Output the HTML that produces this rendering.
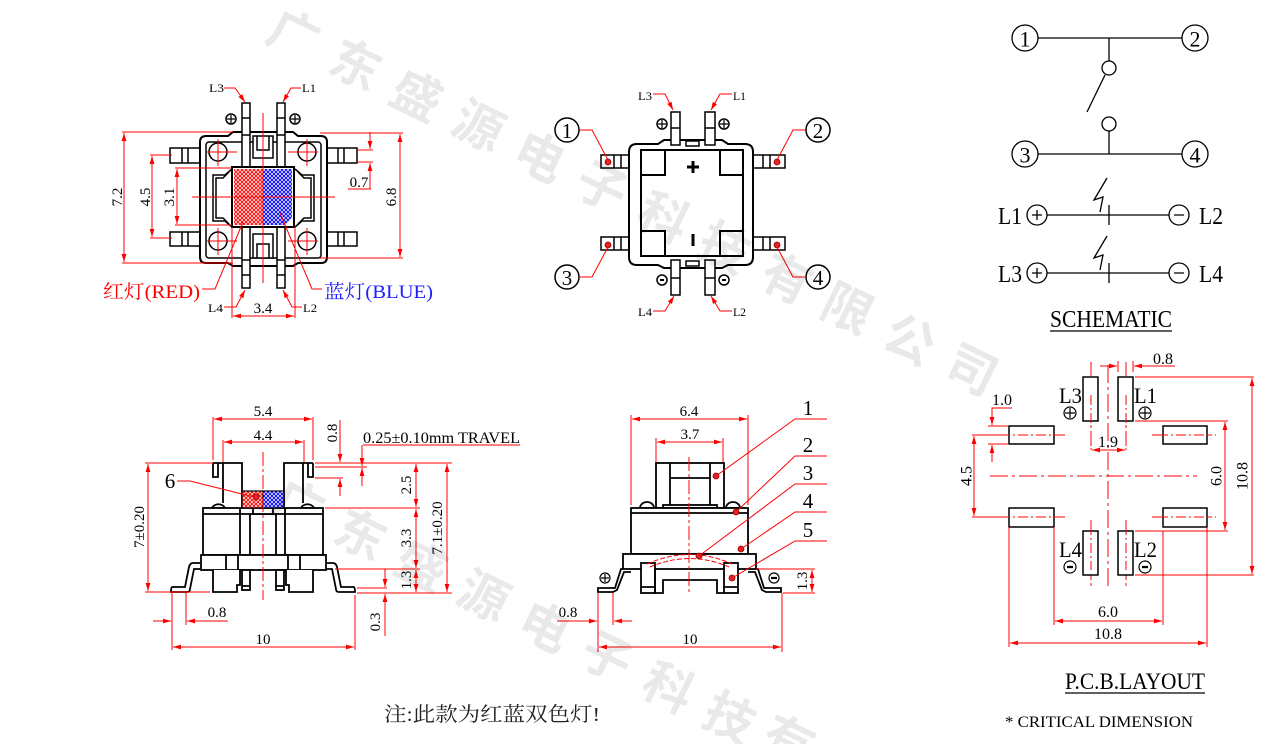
<!DOCTYPE html>
<html><head><meta charset="utf-8"><style>html,body{margin:0;padding:0;background:#fff;width:1266px;height:744px;overflow:hidden}svg{display:block}</style></head>
<body>
<svg width="1266" height="744" viewBox="0 0 1266 744" xmlns="http://www.w3.org/2000/svg" font-family="'Liberation Serif', serif">
<defs>
<marker id="ar" viewBox="0 0 10 6" markerWidth="8" markerHeight="5" refX="10" refY="3" orient="auto-start-reverse" markerUnits="userSpaceOnUse"><path d="M0,0 L10,3 L0,6 z" fill="#ff0000"/></marker>
<pattern id="hr" width="4" height="4" patternUnits="userSpaceOnUse"><rect width="4" height="4" fill="#fff"/><path d="M-1,-1 L5,5 M5,-1 L-1,5" stroke="#ff1010" stroke-width="1.1"/></pattern>
<pattern id="hb" width="4" height="4" patternUnits="userSpaceOnUse"><rect width="4" height="4" fill="#fff"/><path d="M-1,-1 L5,5 M5,-1 L-1,5" stroke="#1010ff" stroke-width="1.1"/></pattern>
</defs>

<!-- ================= TOP-LEFT VIEW ================= -->
<g fill="#fff" stroke="#000" stroke-width="1.5">
 <rect x="170" y="148" width="30" height="15"/>
 <rect x="170" y="232" width="30" height="14"/>
 <rect x="327" y="148" width="30" height="15"/>
 <rect x="327" y="232" width="30" height="14"/>
 <path fill="none" d="M182,148V163M188,148V163M182,232V246M188,232V246M338,148V163M344,148V163M338,232V246M344,232V246"/>
 <path stroke-width="2" d="M206,136H228L233,132H293L298,136H321Q327,136 327,142V257Q327,263 321,263H298L293,266H233L228,263H206Q200,263 200,257V142Q200,136 206,136Z"/>
 <rect x="206" y="142" width="115" height="116" rx="3"/>
 <circle cx="218" cy="152" r="9"/>
 <circle cx="307" cy="152" r="9"/>
 <circle cx="218" cy="241" r="9"/>
 <circle cx="307" cy="241" r="9"/>
 <path fill="none" d="M232,169L225,175H213V221H225L232,227M295,169L302,175H314V221H302L295,227"/>
 <path fill="none" d="M229,172L223,178H216V218H223L229,224M298,172L304,178H311V218H304L298,224"/>
 <rect x="242" y="103" width="8" height="65"/>
 <rect x="277" y="103" width="8" height="65"/>
 <rect x="242" y="227" width="8" height="61"/>
 <rect x="277" y="227" width="8" height="61"/>
 <path fill="none" d="M242,118H250M277,118H285M242,135H250M277,135H285M242,260H250M277,260H285M242,275H250M277,275H285"/>
 <rect x="253" y="136" width="20" height="22"/>
 <path fill="none" d="M257,136V150H269V136"/>
 <rect x="253" y="234" width="20" height="24"/>
 <path fill="none" d="M257,258V244H269V258"/>
 <circle cx="231" cy="119" r="5"/>
 <circle cx="295" cy="119" r="5"/>
 <path fill="none" stroke-width="1.2" d="M227,119H235M231,115V123M291,119H299M295,115V123"/>
</g>
<rect x="232" y="167" width="62" height="60" fill="#fff" stroke="#000" stroke-width="2"/>
<rect x="234" y="169" width="29" height="56" fill="url(#hr)"/>
<path d="M263,169H292V218L285,225H263Z" fill="url(#hb)"/>
<g stroke="#ff0000" stroke-width="1" fill="none">
 <path d="M192,197H335M263,113V283"/>
 <path d="M207,152H237M218,139V166M288,152H318M307,139V166M207,241H237M218,228V255M288,241H318M307,228V255"/>
 <path d="M122,132H233M122,263H233"/>
 <path d="M124,133V262" marker-start="url(#ar)" marker-end="url(#ar)"/>
 <path d="M150,155H172M150,238H172"/>
 <path d="M152,156V237" marker-start="url(#ar)" marker-end="url(#ar)"/>
 <path d="M175,168H232M175,225H232"/>
 <path d="M177,169V224" marker-start="url(#ar)" marker-end="url(#ar)"/>
 <path d="M320,133H403M320,258H403"/>
 <path d="M400,134V257" marker-start="url(#ar)" marker-end="url(#ar)"/>
 <path d="M357,150H373M357,162H373M348,189H371"/>
 <path d="M370,132V149" marker-end="url(#ar)"/>
 <path d="M370,189V163" marker-end="url(#ar)"/>
 <path d="M232,227V318M295,227V318"/>
 <path d="M233,316H294" marker-start="url(#ar)" marker-end="url(#ar)"/>
 <polyline points="224,88 235,88 245,102" marker-end="url(#ar)"/>
 <polyline points="301,88 291,88 283,102" marker-end="url(#ar)"/>
 <polyline points="224,307 236,307 245,290" marker-end="url(#ar)"/>
 <polyline points="302,307 292,307 283,290" marker-end="url(#ar)"/>
 <polyline points="202,289 215,289 243,222"/>
 <polyline points="322,289 312,289 280,213"/>
</g>
<g font-size="15" fill="#000" text-anchor="middle">
 <text transform="translate(118,197) rotate(-90)" dominant-baseline="central">7.2</text>
 <text transform="translate(146,197) rotate(-90)" dominant-baseline="central">4.5</text>
 <text transform="translate(170,197) rotate(-90)" dominant-baseline="central">3.1</text>
 <text transform="translate(392,197) rotate(-90)" dominant-baseline="central">6.8</text>
 <text x="359" y="187">0.7</text>
 <text x="263" y="313">3.4</text>
</g>
<g font-size="12" fill="#000">
 <text x="209" y="92" textLength="15" lengthAdjust="spacingAndGlyphs">L3</text>
 <text x="302" y="92" textLength="14" lengthAdjust="spacingAndGlyphs">L1</text>
 <text x="208" y="312" textLength="15" lengthAdjust="spacingAndGlyphs">L4</text>
 <text x="303" y="312" textLength="14" lengthAdjust="spacingAndGlyphs">L2</text>
</g>
<text x="103" y="298" font-size="19" fill="#ff0000" font-family="'Liberation Serif','Noto Serif CJK SC',serif" textLength="97" lengthAdjust="spacingAndGlyphs">红灯(RED)</text>
<text x="324" y="298" font-size="19" fill="#2020ff" font-family="'Liberation Serif','Noto Serif CJK SC',serif" textLength="109" lengthAdjust="spacingAndGlyphs">蓝灯(BLUE)</text>

<!-- ================= TOP-MIDDLE VIEW ================= -->
<g fill="#fff" stroke="#000" stroke-width="1.5">
 <rect x="601" y="155" width="28" height="13"/>
 <rect x="601" y="237" width="28" height="13"/>
 <rect x="753" y="155" width="32" height="13"/>
 <rect x="753" y="237" width="32" height="13"/>
 <path fill="none" d="M614,155V168M621,155V168M614,237V250M621,237V250M763,155V168M770,155V168M763,237V250M770,237V250"/>
 <path stroke-width="2" d="M637,144H658L664,140H722L728,144H745Q753,144 753,152V257Q753,265 745,265H728L722,268H664L658,265H637Q629,265 629,257V152Q629,144 637,144Z"/>
 <rect x="641" y="150" width="102" height="106" stroke-width="2"/>
 <path fill="none" stroke-width="2" d="M641,175H665V150M743,175H720V150M641,231H665V256M743,231H720V256"/>
 <rect x="671" y="112" width="9" height="33"/>
 <rect x="705" y="112" width="10" height="33"/>
 <rect x="671" y="260" width="9" height="35"/>
 <rect x="705" y="260" width="10" height="35"/>
 <path fill="none" d="M671,128H680M705,128H715M671,278H680M705,278H715"/>
 <rect x="686" y="141" width="13" height="5"/>
 <rect x="686" y="261" width="13" height="5"/>
 <circle cx="662" cy="124" r="5"/><circle cx="724" cy="124" r="5"/>
 <circle cx="662" cy="280" r="5"/><circle cx="724" cy="280" r="5"/>
 <path fill="none" stroke-width="1.2" d="M658,124H666M662,120V128M720,124H728M724,120V128"/>
 <path fill="none" stroke-width="2" d="M660,280H664M722,280H726"/>
 <circle cx="567" cy="130" r="12"/><circle cx="818" cy="130" r="12"/>
 <circle cx="567" cy="277" r="12"/><circle cx="818" cy="277" r="12"/>
</g>
<path d="M687,167H699M693,161V173" stroke="#000" stroke-width="3"/>
<rect x="691.5" y="234" width="3" height="12" fill="#000"/>
<g stroke="#ff0000" stroke-width="1" fill="none">
 <polyline points="579,130 592,130 608,160"/>
 <polyline points="806,130 793,130 777,160"/>
 <polyline points="579,277 592,277 608,247"/>
 <polyline points="806,277 793,277 777,247"/>
 <polyline points="653,94 665,94 673,110" marker-end="url(#ar)"/>
 <polyline points="732,94 720,94 711,110" marker-end="url(#ar)"/>
 <polyline points="653,311 665,311 674,296" marker-end="url(#ar)"/>
 <polyline points="732,311 720,311 711,296" marker-end="url(#ar)"/>
</g>
<g fill="#e52222" stroke="#900" stroke-width="0.8">
 <circle cx="608" cy="162" r="3"/><circle cx="608" cy="245" r="3"/>
 <circle cx="777" cy="162" r="3"/><circle cx="777" cy="245" r="3"/>
</g>
<g font-size="21" fill="#000" text-anchor="middle" dominant-baseline="central">
 <text x="567" y="131">1</text><text x="818" y="131">2</text>
 <text x="567" y="278">3</text><text x="818" y="278">4</text>
</g>
<g font-size="12" fill="#000">
 <text x="638" y="100" textLength="14" lengthAdjust="spacingAndGlyphs">L3</text>
 <text x="733" y="100" textLength="13" lengthAdjust="spacingAndGlyphs">L1</text>
 <text x="638" y="316" textLength="14" lengthAdjust="spacingAndGlyphs">L4</text>
 <text x="733" y="316" textLength="13" lengthAdjust="spacingAndGlyphs">L2</text>
</g>

<!-- ================= SCHEMATIC ================= -->
<g stroke="#000" stroke-width="1.3" fill="none">
 <circle cx="1025" cy="38" r="13"/><circle cx="1195" cy="38" r="13"/>
 <circle cx="1025" cy="154" r="13"/><circle cx="1195" cy="154" r="13"/>
 <path d="M1038,38H1182M1109,38V61M1038,154H1182M1109,154V131"/>
 <circle cx="1109" cy="68" r="7"/><circle cx="1109" cy="124" r="7"/>
 <path d="M1105,75L1087,112"/>
 <polyline points="1107,178 1094,200 1103,197 1100,212"/>
 <polyline points="1107,236 1094,258 1103,255 1100,270"/>
 <circle cx="1037" cy="215" r="10"/><circle cx="1179" cy="215" r="10"/>
 <circle cx="1037" cy="273" r="10"/><circle cx="1179" cy="273" r="10"/>
 <path d="M1047,215H1169M1109,205V225M1047,273H1169M1109,263V283"/>
 <path d="M1032,215H1042M1037,210V220M1174,215H1184M1032,273H1042M1037,268V278M1174,273H1184"/>
 <path d="M1050,331H1172"/>
</g>
<g font-size="22" fill="#000" text-anchor="middle" dominant-baseline="central">
 <text x="1025" y="39">1</text><text x="1195" y="39">2</text>
 <text x="1025" y="155">3</text><text x="1195" y="155">4</text>
</g>
<g font-size="24" fill="#000">
 <text x="998" y="224" textLength="24" lengthAdjust="spacingAndGlyphs">L1</text>
 <text x="1199" y="224" textLength="24" lengthAdjust="spacingAndGlyphs">L2</text>
 <text x="998" y="282" textLength="24" lengthAdjust="spacingAndGlyphs">L3</text>
 <text x="1199" y="282" textLength="24" lengthAdjust="spacingAndGlyphs">L4</text>
 <text x="1050" y="327" textLength="122" lengthAdjust="spacingAndGlyphs">SCHEMATIC</text>
</g>

<!-- ================= PCB LAYOUT ================= -->
<g stroke="#ff0000" stroke-width="1" fill="none">
 <path d="M990,476H1197" stroke-dasharray="18,4,3,4"/>
 <path d="M1108,365V590" stroke-dasharray="18,4,3,4"/>
 <path d="M1091,362V450M1126,362V450M1091,520V588M1126,520V588" stroke-dasharray="14,3,3,3"/>
 <path d="M982,435H1068M1152,435H1216M982,517H1068M1152,517H1216" stroke-dasharray="14,3,3,3"/>
</g>
<g fill="#fff" stroke="#000" stroke-width="1.5">
 <rect x="1083" y="377" width="15" height="44"/>
 <rect x="1118" y="377" width="15" height="44"/>
 <rect x="1083" y="531" width="15" height="44"/>
 <rect x="1118" y="531" width="15" height="44"/>
 <rect x="1009" y="426" width="45" height="18"/>
 <rect x="1163" y="426" width="44" height="18"/>
 <rect x="1009" y="508" width="45" height="19"/>
 <rect x="1163" y="508" width="44" height="19"/>
</g>
<g stroke="#ff0000" stroke-width="1" fill="none">
 <path d="M1091,395V450M1126,395V450M1091,525V570M1126,525V570" stroke-dasharray="10,3,2,3"/>
 <path d="M1000,435H1062M1158,435H1212M1000,517H1062M1158,517H1212" stroke-dasharray="10,3,2,3"/>
 <path d="M1118,361V372M1133,361V372"/>
 <path d="M1100,366H1117" marker-end="url(#ar)"/>
 <path d="M1175,366H1134" marker-end="url(#ar)"/>
 <path d="M1092,450H1125" marker-start="url(#ar)" marker-end="url(#ar)"/>
 <path d="M988,426H1008M988,444H1008"/>
 <path d="M1012,408H992V425" marker-end="url(#ar)"/>
 <path d="M992,462V445" marker-end="url(#ar)"/>
 <path d="M972,435H1008M972,517H1008"/>
 <path d="M974,436V516" marker-start="url(#ar)" marker-end="url(#ar)"/>
 <path d="M1135,421H1228M1135,531H1228"/>
 <path d="M1225,422V530" marker-start="url(#ar)" marker-end="url(#ar)"/>
 <path d="M1135,377H1254M1135,575H1254"/>
 <path d="M1252,378V574" marker-start="url(#ar)" marker-end="url(#ar)"/>
 <path d="M1054,527V625M1163,531V625"/>
 <path d="M1055,621H1162" marker-start="url(#ar)" marker-end="url(#ar)"/>
 <path d="M1009,527V647M1207,527V647"/>
 <path d="M1010,643H1206" marker-start="url(#ar)" marker-end="url(#ar)"/>
</g>
<g stroke="#000" stroke-width="1.2" fill="none">
 <circle cx="1070" cy="413" r="6"/><circle cx="1145" cy="413" r="6"/>
 <circle cx="1070" cy="567" r="6"/><circle cx="1145" cy="567" r="6"/>
 <path d="M1065,413H1075M1070,408V418M1140,413H1150M1145,408V418"/>
 <path d="M1067,567H1073M1142,567H1148" stroke-width="2.2"/>
</g>
<g font-size="22" fill="#000">
 <text x="1059" y="403" textLength="23" lengthAdjust="spacingAndGlyphs">L3</text>
 <text x="1134" y="403" textLength="23" lengthAdjust="spacingAndGlyphs">L1</text>
 <text x="1059" y="557" textLength="23" lengthAdjust="spacingAndGlyphs">L4</text>
 <text x="1134" y="557" textLength="23" lengthAdjust="spacingAndGlyphs">L2</text>
</g>
<g font-size="16" fill="#000" text-anchor="middle">
 <text x="1163" y="364">0.8</text>
 <text x="1002" y="405">1.0</text>
 <text x="1108" y="447">1.9</text>
 <text x="1108" y="617">6.0</text>
 <text x="1108" y="639">10.8</text>
 <text transform="translate(967,476) rotate(-90)" dominant-baseline="central">4.5</text>
 <text transform="translate(1217,476) rotate(-90)" dominant-baseline="central">6.0</text>
 <text transform="translate(1243,476) rotate(-90)" dominant-baseline="central">10.8</text>
</g>
<text x="1065" y="689" font-size="23" fill="#000" textLength="140" lengthAdjust="spacingAndGlyphs">P.C.B.LAYOUT</text>
<path d="M1065,693H1205" stroke="#000" stroke-width="1.3"/>
<text x="1005" y="727" font-size="16" fill="#000" textLength="188" lengthAdjust="spacingAndGlyphs">* CRITICAL  DIMENSION</text>

<!-- ================= BOTTOM-LEFT SIDE VIEW ================= -->
<g fill="#fff" stroke="#000" stroke-width="1.8">
 <path d="M213,463H242V508M213,463V477H218V463M223,463V503"/>
 <path d="M313,463H284V508M313,463V477H308V463M303,463V503"/>
 <path d="M212,508A7,6 0 0 1 225,508Z"/>
 <path d="M301,508A7,6 0 0 1 314,508Z"/>
 <path d="M200,563H193Q190,563 189,567L185,587H172Q171,588 171,592H187Q190,592 190,589L194,569H200"/>
 <path d="M326,563H333Q336,563 337,567L341,587H354Q355,588 355,592H339Q336,592 336,589L332,569H326"/>
 <rect x="203" y="508" width="120" height="47"/>
 <path fill="none" d="M203,514H323M240,508V555M285,508V555M250,514V555M276,514V555"/>
 <rect x="253" y="508" width="20" height="6"/>
 <rect x="201" y="555" width="125" height="15"/>
 <path fill="none" d="M226,555V570M238,555V570M288,555V570M300,555V570"/>
 <path d="M213,570V592H237V585H240V570"/>
 <path d="M313,570V592H289V585H286V570"/>
 <rect x="242" y="570" width="8" height="20"/>
 <rect x="276" y="570" width="8" height="20"/>
 <path fill="none" d="M242,586H250M276,586H284"/>
</g>
<rect x="242" y="491" width="21" height="17" fill="url(#hr)" stroke="#000" stroke-width="1.2"/>
<rect x="263" y="491" width="21" height="17" fill="url(#hb)" stroke="#000" stroke-width="1.2"/>
<g stroke="#ff0000" stroke-width="1" fill="none">
 <path d="M263,452V600" stroke-dasharray="14,3,3,3"/>
 <path d="M213,417V460M313,417V460"/>
 <path d="M214,419H312" marker-start="url(#ar)" marker-end="url(#ar)"/>
 <path d="M223,440V462M304,440V462"/>
 <path d="M224,442H303" marker-start="url(#ar)" marker-end="url(#ar)"/>
 <polyline points="177,481 190,481 254,497"/>
 <path d="M315,463H452M315,467H367M315,478H343M325,508H420M335,569H420M357,593H452M357,588H387"/>
 <path d="M340,420V462" marker-end="url(#ar)"/>
 <path d="M340,496V479" marker-end="url(#ar)"/>
 <path d="M363,445H520"/>
 <path d="M362,445V466" marker-end="url(#ar)"/>
 <path d="M362,486V468" marker-end="url(#ar)"/>
 <path d="M416,464V507" marker-start="url(#ar)" marker-end="url(#ar)"/>
 <path d="M416,509V568" marker-start="url(#ar)" marker-end="url(#ar)"/>
 <path d="M416,570V592" marker-start="url(#ar)" marker-end="url(#ar)"/>
 <path d="M447,464V592" marker-start="url(#ar)" marker-end="url(#ar)"/>
 <path d="M385,569V587" marker-end="url(#ar)"/>
 <path d="M385,636V594" marker-end="url(#ar)"/>
 <path d="M145,463H213M145,592H210"/>
 <path d="M148,464V591" marker-start="url(#ar)" marker-end="url(#ar)"/>
 <path d="M172,592V650M186,592V625M355,595V650"/>
 <path d="M153,621H171" marker-end="url(#ar)"/>
 <path d="M228,621H187" marker-end="url(#ar)"/>
 <path d="M173,647H354" marker-start="url(#ar)" marker-end="url(#ar)"/>
</g>
<circle cx="256" cy="497" r="3" fill="#e52222" stroke="#900" stroke-width="0.8"/>
<g font-size="15" fill="#000" text-anchor="middle">
 <text x="263" y="416">5.4</text>
 <text x="263" y="440">4.4</text>
 <text x="217" y="617">0.8</text>
 <text x="263" y="644">10</text>
 <text transform="translate(333,433) rotate(-90)" dominant-baseline="central">0.8</text>
 <text transform="translate(407,485) rotate(-90)" dominant-baseline="central">2.5</text>
 <text transform="translate(407,538) rotate(-90)" dominant-baseline="central">3.3</text>
 <text transform="translate(407,580) rotate(-90)" dominant-baseline="central">1.3</text>
 <text transform="translate(438,528) rotate(-90)" dominant-baseline="central">7.1±0.20</text>
 <text transform="translate(376,622) rotate(-90)" dominant-baseline="central">0.3</text>
 <text transform="translate(140,527) rotate(-90)" dominant-baseline="central">7±0.20</text>
</g>
<text x="170" y="488" font-size="21" fill="#000" text-anchor="middle">6</text>
<text x="363" y="443" font-size="16" fill="#000" textLength="157" lengthAdjust="spacingAndGlyphs">0.25±0.10mm TRAVEL</text>

<!-- ================= BOTTOM-MIDDLE SIDE VIEW ================= -->
<g fill="#fff" stroke="#000" stroke-width="1.8">
 <path d="M640,508A7,6 0 0 1 654,508Z"/>
 <path d="M726,508A7,6 0 0 1 740,508Z"/>
 <rect x="656" y="463" width="68" height="45"/>
 <path fill="none" d="M670,463V508M710,463V508M670,478H710"/>
 <rect x="663" y="505" width="54" height="3"/>
 <path d="M623,569H621L615,588H598V592H613L617,590L624,572H631"/>
 <path d="M756,569H758L764,588H781V592H766L762,590L755,572H748"/>
 <rect x="631" y="508" width="117" height="46"/>
 <path fill="none" d="M631,513H748"/>
 <rect x="623" y="554" width="133" height="15"/>
 <rect x="641" y="563" width="14" height="30"/>
 <rect x="724" y="563" width="14" height="30"/>
 <path fill="none" d="M641,587H655M724,587H738M655,569V593H663V580H717V593H724"/>
</g>
<g stroke="#ff0000" stroke-width="1" fill="none">
 <path d="M647,564Q690,545 732,564" stroke-dasharray="5,2"/>
 <path d="M650,567Q690,550 729,567" stroke-dasharray="5,2"/>
 <path d="M689,457V592" stroke-dasharray="14,3,3,3"/>
 <path d="M631,415V505M748,415V505"/>
 <path d="M632,419H747" marker-start="url(#ar)" marker-end="url(#ar)"/>
 <path d="M656,438V462M723,438V462"/>
 <path d="M657,442H722" marker-start="url(#ar)" marker-end="url(#ar)"/>
 <polyline points="716,476 795,419 827,419"/>
 <polyline points="736,512 795,456 827,456"/>
 <polyline points="699,556 795,484 827,484"/>
 <polyline points="741,549 795,512 827,512"/>
 <polyline points="732,578 795,541 827,541"/>
 <path d="M756,569H815M783,593H815"/>
 <path d="M812,570V592" marker-start="url(#ar)" marker-end="url(#ar)"/>
 <path d="M598,593V652M613,593V625M782,593V652"/>
 <path d="M557,621H597" marker-end="url(#ar)"/>
 <path d="M632,621H614" marker-end="url(#ar)"/>
 <path d="M599,647H781" marker-start="url(#ar)" marker-end="url(#ar)"/>
</g>
<g fill="#e52222" stroke="#900" stroke-width="0.8">
 <circle cx="716" cy="476" r="3"/><circle cx="736" cy="512" r="3"/>
 <circle cx="699" cy="556" r="3"/><circle cx="741" cy="549" r="3"/>
 <circle cx="732" cy="578" r="3"/>
</g>
<g stroke="#000" stroke-width="1.2" fill="none">
 <circle cx="605" cy="578" r="5"/><circle cx="774" cy="578" r="5"/>
 <path d="M601,578H609M605,574V582"/>
 <path d="M771,578H777" stroke-width="2.2"/>
</g>
<g font-size="15" fill="#000" text-anchor="middle">
 <text x="689" y="416">6.4</text>
 <text x="690" y="439">3.7</text>
 <text x="568" y="617">0.8</text>
 <text x="690" y="644">10</text>
 <text transform="translate(803,581) rotate(-90)" dominant-baseline="central">1.3</text>
</g>
<g font-size="21" fill="#000" text-anchor="middle">
 <text x="808" y="415">1</text>
 <text x="808" y="452">2</text>
 <text x="808" y="480">3</text>
 <text x="808" y="508">4</text>
 <text x="808" y="537">5</text>
</g>

<!-- note -->
<text x="384" y="721" font-size="20" fill="#222" font-family="'Liberation Serif','Noto Serif CJK SC',serif" textLength="216" lengthAdjust="spacingAndGlyphs">注:此款为红蓝双色灯!</text>

<!-- watermark overlay -->
<g font-family="'Noto Sans CJK SC','WenQuanYi Zen Hei',sans-serif" font-weight="bold" font-size="50" fill="#000" fill-opacity="0.085" text-anchor="middle" dominant-baseline="central">
<text transform="translate(295,32) rotate(26)">广</text>
<text transform="translate(357,62) rotate(26)">东</text>
<text transform="translate(418,93) rotate(26)">盛</text>
<text transform="translate(480,123) rotate(26)">源</text>
<text transform="translate(541,154) rotate(26)">电</text>
<text transform="translate(603,184) rotate(26)">子</text>
<text transform="translate(665,215) rotate(26)">科</text>
<text transform="translate(726,245) rotate(26)">技</text>
<text transform="translate(788,276) rotate(26)">有</text>
<text transform="translate(849,306) rotate(26)">限</text>
<text transform="translate(911,337) rotate(26)">公</text>
<text transform="translate(973,367) rotate(26)">司</text>
<text transform="translate(300,502) rotate(26)">广</text>
<text transform="translate(362,532) rotate(26)">东</text>
<text transform="translate(423,563) rotate(26)">盛</text>
<text transform="translate(485,593) rotate(26)">源</text>
<text transform="translate(546,624) rotate(26)">电</text>
<text transform="translate(608,654) rotate(26)">子</text>
<text transform="translate(670,685) rotate(26)">科</text>
<text transform="translate(731,715) rotate(26)">技</text>
<text transform="translate(790,738) rotate(26)">有</text>
</g>
</svg>
</body></html>
